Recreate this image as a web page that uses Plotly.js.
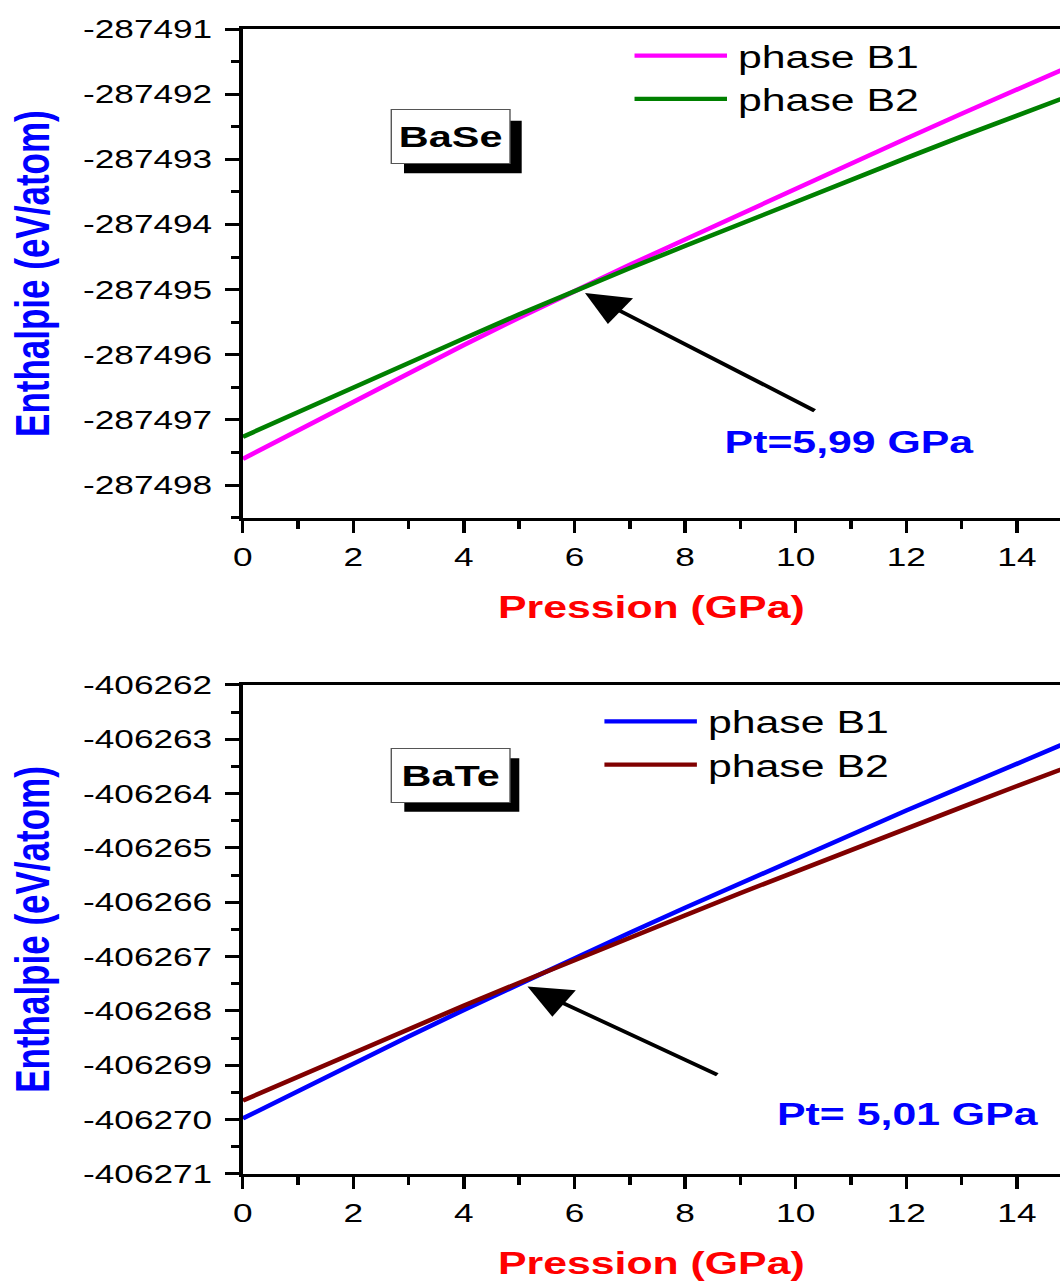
<!DOCTYPE html>
<html><head><meta charset="utf-8">
<script src="https://cdn.plot.ly/plotly-3.0.1.min.js"></script>
<style>
html,body{margin:0;padding:0;background:#fff;overflow:hidden}
#wrap{width:1060px;height:1288px;overflow:hidden;position:relative;background:#fff}
#chart{width:768px;height:1288px;transform:scaleX(1.380208);transform-origin:0 0}
</style></head><body>
<div id="wrap"><div id="chart"></div></div>
<script>
// ---- data ----
const pressure = [0,1,2,3,4,5,6,7,8,9,10,11,12,13,14,15];
const baseB1 = [-287497.60,-287497.16,-287496.72,-287496.28,-287495.85,-287495.43,-287495.02,-287494.62,-287494.23,-287493.84,-287493.45,-287493.06,-287492.68,-287492.30,-287491.93,-287491.56];
const baseB2 = [-287497.26,-287496.88,-287496.50,-287496.12,-287495.75,-287495.38,-287495.02,-287494.67,-287494.33,-287493.99,-287493.65,-287493.31,-287492.98,-287492.65,-287492.33,-287492.01];
const bateB1 = [-406269.98,-406269.47,-406268.97,-406268.47,-406267.98,-406267.50,-406267.03,-406266.56,-406266.10,-406265.65,-406265.20,-406264.75,-406264.31,-406263.88,-406263.45,-406263.02];
const bateB2 = [-406269.65,-406269.21,-406268.77,-406268.33,-406267.90,-406267.48,-406267.06,-406266.65,-406266.24,-406265.83,-406265.43,-406265.03,-406264.64,-406264.25,-406263.86,-406263.48];
const seriesNames = ['phase B1','phase B2'];
const compounds = ['BaSe','BaTe'];
const transitionLabels = ['Pt=5,99 GPa','Pt= 5,01 GPa'];
const xTickVals = [0,2,4,6,8,10,12,14];
const baseYTickVals = [-287498,-287497,-287496,-287495,-287494,-287493,-287492,-287491];
const baseYTickText = ['-287498','-287497','-287496','-287495','-287494','-287493','-287492','-287491'];
const bateYTickVals = [-406271,-406270,-406269,-406268,-406267,-406266,-406265,-406264,-406263,-406262];
const bateYTickText = ['-406271','-406270','-406269','-406268','-406267','-406266','-406265','-406264','-406263','-406262'];

// ---- styling ----
const FONT = 'Liberation Sans, Arial, Helvetica, sans-serif';
const xDom = [0.22896, 1];

function xAxis(anchor){
  return {
    domain: xDom, anchor: anchor, range: [0, 14.78],
    tickvals: xTickVals, ticks: 'outside', ticklen: 12, tickwidth: 2.5, tickcolor: '#000',
    minor: {dtick: 1, tick0: 0, ticks: 'outside', ticklen: 8, tickwidth: 2.5, tickcolor: '#000'},
    showline: true, linecolor: '#000', linewidth: 3, mirror: true,
    showgrid: false, zeroline: false, ticklabelstandoff: 2,
    tickfont: {family: FONT, size: 25.5, color: '#000'},
    title: {text: 'Pression (GPa)', standoff: 27, font: {family: FONT, size: 31, color: '#FF0000', weight: 'bold'}}
  };
}
function yAxis(anchor, dom, range, tv, tt){
  return {
    domain: dom, anchor: anchor, range: range,
    tickvals: tv, ticktext: tt, ticks: 'outside', ticklen: 10, tickwidth: 3, tickcolor: '#000',
    minor: {dtick: 0.5, tick0: tv[0], ticks: 'outside', ticklen: 5.3, tickwidth: 3, tickcolor: '#000'},
    showline: true, linecolor: '#000', linewidth: 3,
    showgrid: false, zeroline: false, ticklabelstandoff: 4,
    tickfont: {family: FONT, size: 25.5, color: '#000'},
    title: {text: 'Enthalpie (eV/atom)', standoff: 14, font: {family: FONT, size: 35, color: '#0000FF', weight: 'bold'}}
  };
}

const traces = [
  {x: pressure, y: baseB1, name: seriesNames[0], mode: 'lines', line: {color: '#FF00FF', width: 4.3}, xaxis: 'x', yaxis: 'y', legend: 'legend'},
  {x: pressure, y: baseB2, name: seriesNames[1], mode: 'lines', line: {color: '#008000', width: 4.3}, xaxis: 'x', yaxis: 'y', legend: 'legend'},
  {x: pressure, y: bateB1, name: seriesNames[0], mode: 'lines', line: {color: '#0000FF', width: 4.3}, xaxis: 'x2', yaxis: 'y2', legend: 'legend2'},
  {x: pressure, y: bateB2, name: seriesNames[1], mode: 'lines', line: {color: '#800000', width: 4.3}, xaxis: 'x2', yaxis: 'y2', legend: 'legend2'}
];

const legendCommon = {xanchor: 'left', yanchor: 'top', bgcolor: 'rgba(0,0,0,0)', borderwidth: 0,
  itemwidth: 70, font: {family: FONT, size: 31, color: '#000'}, tracegroupgap: 0};

const boxAnn = (txt, x, y) => ({
  xref: 'paper', yref: 'paper', x: x, y: y, xanchor: 'center', yanchor: 'middle',
  text: txt, showarrow: false, width: 85, height: 53, borderpad: 0,
  bgcolor: '#FFFFFF', bordercolor: '#555', borderwidth: 1,
  font: {family: FONT, size: 30, color: '#000', weight: 'bold'}
});
const ptAnn = (txt, x, y) => ({
  xref: 'paper', yref: 'paper', x: x, y: y, xanchor: 'center', yanchor: 'middle',
  text: txt, showarrow: false, font: {family: FONT, size: 31, color: '#0000FF', weight: 'bold'}
});
const arrowAnn = (xr, yr, x, y, ax, ay) => ({
  xref: xr, yref: yr, axref: xr, ayref: yr, x: x, y: y, ax: ax, ay: ay, text: '',
  showarrow: true, arrowhead: 2, arrowsize: 1.8, arrowwidth: 3.5, arrowcolor: '#000'
});

const layout = {
  width: 768, height: 1288,
  margin: {l: 0, r: 0, t: 0, b: 0},
  paper_bgcolor: '#fff', plot_bgcolor: '#fff',
  font: {family: FONT, color: '#000'},
  showlegend: true,
  xaxis: xAxis('y'),
  yaxis: yAxis('x', [0.59759, 0.97748], [-287498.51, -287491], baseYTickVals, baseYTickText),
  xaxis2: xAxis('y2'),
  yaxis2: yAxis('x2', [0.08851, 0.46817], [-406271, -406262], bateYTickVals, bateYTickText),
  legend: Object.assign({x: 0.5921, y: 0.9775}, legendCommon),
  legend2: Object.assign({x: 0.5637, y: 0.46063}, legendCommon),
  shapes: [
    {type: 'rect', xref: 'paper', yref: 'paper', x0: 0.38114, x1: 0.49217, y0: 0.86545, y1: 0.90629, fillcolor: '#000', line: {width: 0}},
    {type: 'rect', xref: 'paper', yref: 'paper', x0: 0.38142, x1: 0.48991, y0: 0.36980, y1: 0.41126, fillcolor: '#000', line: {width: 0}}
  ],
  annotations: [
    boxAnn(compounds[0], 0.42548, 0.89414),
    boxAnn(compounds[1], 0.42453, 0.39829),
    ptAnn(transitionLabels[0], 0.80199, 0.65606),
    ptAnn(transitionLabels[1], 0.85673, 0.13432),
    arrowAnn('x', 'y', 6.19, -287495.05, 10.38, -287496.875),
    arrowAnn('x2', 'y2', 5.15, -406267.55, 8.62, -406269.19)
  ]
};

Plotly.newPlot('chart', traces, layout, {staticPlot: true, displayModeBar: false}).then(function(gd){
  // lengthen the legend line samples to fill the wider item slot
  gd.querySelectorAll('g.legendlines path').forEach(function(p){ p.setAttribute('d', 'M5,0h67'); });
});
</script>
</body></html>
